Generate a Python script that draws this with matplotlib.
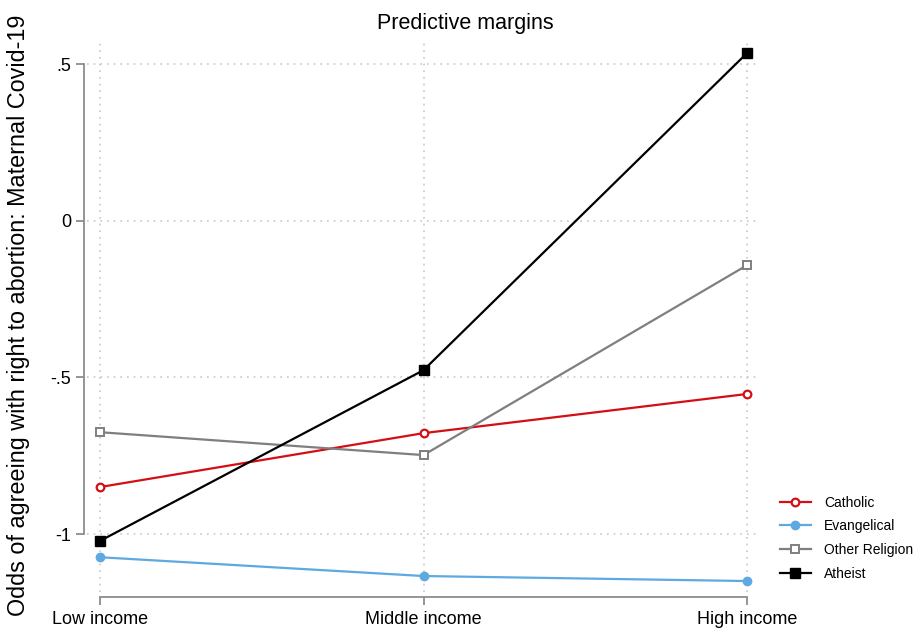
import matplotlib.pyplot as plt

plt.rcParams['font.family'] = ['Liberation Sans', 'DejaVu Sans']

# Predictive margins by income level
income = ["Low income", "Middle income", "High income"]
catholic = [-0.850, -0.678, -0.553]
evangelical = [-1.074, -1.134, -1.150]
other_religion = [-0.675, -0.748, -0.142]
atheist = [-1.022, -0.477, 0.535]

yticks = [0.5, 0, -0.5, -1]
ytick_labels = [".5", "0", "-.5", "-1"]

fig = plt.figure(figsize=(9.15, 6.3), dpi=100)
ax = fig.add_axes([0.0951, 0.0603, 0.7355, 0.8714])

x = range(len(income))
ax.plot(x, catholic, color="#d40f14", lw=1.6, marker="o", ms=5.5,
        mfc="white", mec="#d40f14", mew=1.6, label="Catholic", zorder=3)
ax.plot(x, evangelical, color="#5ea9e0", lw=1.6, marker="o", ms=6,
        mfc="#5ea9e0", mec="#5ea9e0", label="Evangelical", zorder=3)
ax.plot(x, other_religion, color="#7f7f7f", lw=1.6, marker="s", ms=5.5,
        mfc="white", mec="#7f7f7f", mew=1.4, label="Other Religion", zorder=3)
ax.plot(x, atheist, color="black", lw=1.6, marker="s", ms=6.5,
        mfc="black", mec="black", label="Atheist", zorder=4)

ax.set_xlim(-0.04, 2.04)
ax.set_ylim(-1.185, 0.567)
ax.set_xticks(list(x))
ax.set_xticklabels(income)
ax.set_yticks(yticks)
ax.set_yticklabels(ytick_labels)

# dotted grid on both axes
ax.grid(True, linestyle=(0, (1, 3)), color="#c8c8c8", lw=1.2)
ax.set_axisbelow(True)

for side in ["top", "right"]:
    ax.spines[side].set_visible(False)
ax.spines["left"].set_position(("outward", 2.2))
ax.spines["bottom"].set_position(("outward", 3.6))
ax.spines["left"].set_bounds(-1, 0.5)
ax.spines["bottom"].set_bounds(0, 2)
for side in ["left", "bottom"]:
    ax.spines[side].set_color("#8c8c8c")
    ax.spines[side].set_linewidth(1.3)
ax.tick_params(axis="both", direction="out", length=6, width=1.3,
               color="#8c8c8c", labelcolor="black", labelsize=13)
ax.tick_params(axis="y", pad=3)
ax.tick_params(axis="x", pad=4)

fig.text(465 / 915, 1 - 23 / 630, "Predictive margins", ha="center",
         va="center", fontsize=15.5)
fig.text(19 / 915, 0.5, "Odds of agreeing with right to abortion: Maternal Covid-19",
         rotation=90, ha="center", va="center", fontsize=16.8)

fig.legend(loc="upper left", bbox_to_anchor=(767 / 915, 1 - 483 / 630),
           frameon=False, fontsize=10, handlelength=2.3, labelspacing=0.7,
           handletextpad=0.9)

fig.savefig("out.png", dpi=100)
